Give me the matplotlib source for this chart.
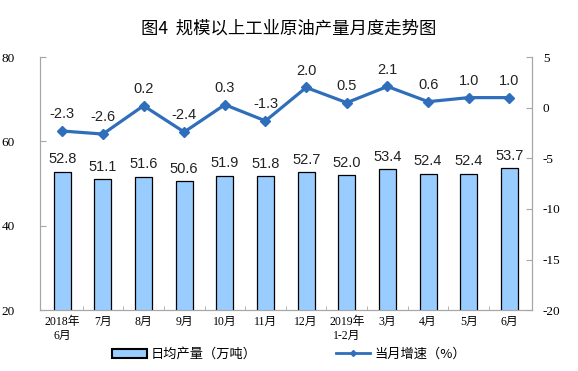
import matplotlib.pyplot as plt
import numpy as np

plt.rcParams['font.family'] = ['Noto Sans CJK SC', 'DejaVu Sans']

months = ['2018年\n6月', '7月', '8月', '9月', '10月', '11月', '12月',
          '2019年\n1-2月', '3月', '4月', '5月', '6月']
output = [52.8, 51.1, 51.6, 50.6, 51.9, 51.8, 52.7, 52.0, 53.4, 52.4, 52.4, 53.7]
growth = [-2.3, -2.6, 0.2, -2.4, 0.3, -1.3, 2.0, 0.5, 2.1, 0.6, 1.0, 1.0]
left_ticks = [20, 40, 60, 80]
right_ticks = [-20, -15, -10, -5, 0, 5]

serif = 'Liberation Serif'
sans = 'Liberation Sans'
spine_c = '#A6A6A6'
line_c = '#2F6EBA'

fig = plt.figure(figsize=(5.78, 3.71), dpi=100)
ax = fig.add_axes([0.069, 0.164, 0.851, 0.682])
ax2 = ax.twinx()

x = np.arange(len(months))
ax.bar(x, output, width=0.42, color='#99CCFF', edgecolor='black', lw=0.9, zorder=3)
for xi, v in zip(x, output):
    ax.annotate(f'{v:.1f}', (xi, v), xytext=(0, 9), textcoords='offset points',
                ha='center', va='center', fontsize=10.5, family=sans, color='#222')

ax2.plot(x, growth, color=line_c, lw=2.3, marker='D', ms=5, zorder=4)
for xi, v in zip(x, growth):
    ax2.annotate(f'{v:.1f}', (xi, v), xytext=(0, 12), textcoords='offset points',
                 ha='center', va='center', fontsize=10.5, family=sans, color='#222')

ax.set_xlim(-0.55, len(months) - 0.45)
ax.set_ylim(20, 80)
ax.set_yticks(left_ticks)
ax2.set_ylim(-20, 5)
ax2.set_yticks(right_ticks)
ax2.set_yticklabels([str(t) for t in right_ticks])

ax.set_xticks(x)
ax.set_xticklabels(months, fontsize=8.5, family=[serif, 'Noto Sans CJK SC'])
ax.set_xticks(x[:-1] + 0.5, minor=True)
ax.tick_params(axis='x', which='major', length=0, pad=4)
ax.tick_params(axis='x', which='minor', length=3, direction='in', color=spine_c)
for a in (ax, ax2):
    a.tick_params(axis='y', direction='in', length=4, color=spine_c, labelsize=9.5)
    for lab in a.get_yticklabels():
        lab.set_family(serif)
    for s in a.spines.values():
        s.set_color(spine_c)
    a.spines['top'].set_visible(False)
ax.tick_params(axis='y', pad=18)
ax2.tick_params(axis='y', pad=8)

fig.text(0.5, 0.922, '图4  规模以上工业原油产量月度走势图', ha='center', va='center',
         fontsize=12.5, fontweight='medium')

h1 = ax.bar([0], [0], color='#99CCFF', edgecolor='black', lw=1.5)
l1, = ax2.plot([], [], color=line_c, lw=2, marker='D', ms=3)
fig.legend([h1, l1], ['日均产量（万吨）', '当月增速（%）'], loc='center',
           bbox_to_anchor=(0.5, 0.045), ncol=2, frameon=False, fontsize=9.5,
           columnspacing=6, handlelength=2.6, handletextpad=0.3)

fig.savefig('out.png', dpi=100)
